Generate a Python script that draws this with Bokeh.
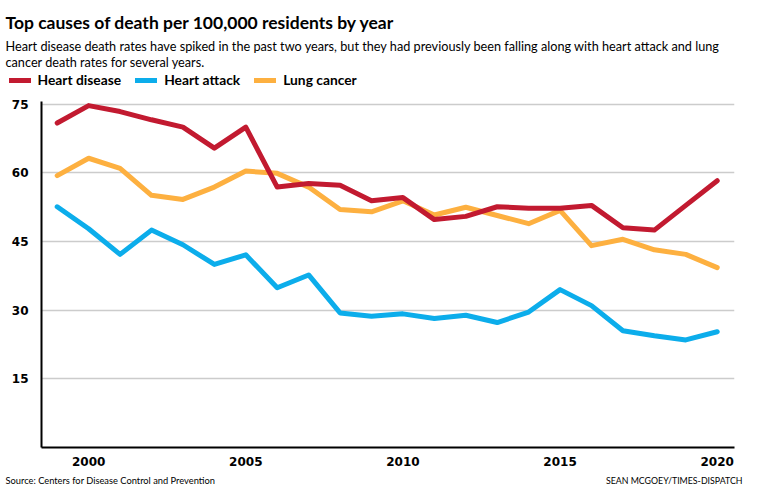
from bokeh.plotting import figure
from bokeh.models import Label, Legend, LegendItem, FixedTicker, Range1d
from bokeh.layouts import column
from bokeh.embed import file_html
from bokeh.resources import INLINE

# ---- data ----
years = list(range(1999, 2021))
heart_disease = [70.9, 74.7, 73.4, 71.6, 70.0, 65.4, 70.0, 56.9, 57.7, 57.3, 53.9,
                 54.6, 49.8, 50.5, 52.6, 52.3, 52.3, 52.9, 48.0, 47.5, 52.9, 58.3]
heart_attack = [52.6, 47.8, 42.2, 47.5, 44.3, 40.0, 42.1, 34.9, 37.7, 29.4, 28.7,
                29.2, 28.2, 28.9, 27.3, 29.6, 34.5, 31.0, 25.5, 24.4, 23.5, 25.3]
lung_cancer = [59.4, 63.2, 61.0, 55.1, 54.2, 56.9, 60.4, 59.9, 56.9, 52.0, 51.5,
               53.9, 50.8, 52.5, 50.7, 48.9, 51.8, 44.1, 45.5, 43.2, 42.2, 39.3]
series_names = ["Heart disease", "Heart attack", "Lung cancer"]
y_ticks = [15, 30, 45, 60, 75]
x_ticks = [2000, 2005, 2010, 2015, 2020]

title = "Top causes of death per 100,000 residents by year"
sub1 = ("Heart disease death rates have spiked in the past two years, but they had previously "
        "been falling along with heart attack and lung")
sub2 = "cancer death rates for several years."
source = "Source: Centers for Disease Control and Prevention"
credit = "SEAN MCGOEY/TIMES-DISPATCH"

RED = "#c21a30"
BLUE = "#0cadeb"
ORANGE = "#fdb040"
FONT = "Lato"
W = 743
LINE = dict(line_width=5, line_cap="round", line_join="round")


def blank_fig(h):
    f = figure(width=W, height=h, output_backend="svg", toolbar_location=None,
               x_range=Range1d(0, W), y_range=Range1d(0, h),
               x_axis_location=None, y_axis_location=None,
               min_border=0, outline_line_color=None, frame_align=False)
    f.grid.visible = False
    return f


def tlab(fig, x, y, text, size, style="normal", align="left"):
    fig.add_layout(Label(x=x, y=y, text=text, text_font=FONT, text_font_size=size,
                         text_font_style=style, text_align=align,
                         text_baseline="alphabetic", text_color="black"))


# ---------- top: title, subtitle, legend ----------
TOP_H = 94
top = blank_fig(TOP_H)
tlab(top, 5, TOP_H - 21.5, title, "17.5px", "bold")
tlab(top, 5, TOP_H - 45, sub1, "12.7px")
tlab(top, 5, TOP_H - 61.5, sub2, "12.7px")

# legend keys: same series, styled like the chart lines (they fall outside this strip's range)
k_red = top.line(years, heart_disease, line_color=RED, **LINE)
k_blue = top.line(years, heart_attack, line_color=BLUE, **LINE)
k_orange = top.line(years, lung_cancer, line_color=ORANGE, **LINE)
legend = Legend(items=[LegendItem(label=series_names[0], renderers=[k_red]),
                       LegendItem(label=series_names[1], renderers=[k_blue]),
                       LegendItem(label=series_names[2], renderers=[k_orange])],
                orientation="horizontal", location=(8.5, 6),
                glyph_width=22, glyph_height=16, label_standoff=7, spacing=14,
                padding=0, margin=0, background_fill_alpha=0, border_line_alpha=0,
                label_text_font=FONT, label_text_font_style="bold",
                label_text_font_size="13.8px", label_text_color="black", label_height=16)
top.add_layout(legend)

# ---------- main chart ----------
X0, X1 = 1998.5, 2020.55
Y0, Y1 = 0, 75.6
MAIN_H = 374
p = figure(width=W, height=MAIN_H, output_backend="svg", toolbar_location=None,
           x_range=Range1d(X0, X1), y_range=Range1d(Y0, Y1),
           min_border_left=41, min_border_right=9, min_border_top=7, min_border_bottom=17,
           frame_align=False)
p.outline_line_color = None

p.xgrid.visible = False
p.ygrid.ticker = FixedTicker(ticks=y_ticks)
p.ygrid.grid_line_color = "#cccccc"
p.ygrid.grid_line_width = 1.5

for ax in (p.xaxis[0], p.yaxis[0]):
    ax.axis_line_color = "black"
    ax.axis_line_width = 2
    ax.major_tick_line_color = None
    ax.minor_tick_line_color = None
    ax.major_label_text_font = "DejaVu Sans"
    ax.major_label_text_font_style = "bold"
    ax.major_label_text_font_size = "12px"
    ax.major_label_text_color = "black"
p.yaxis[0].ticker = FixedTicker(ticks=y_ticks)
p.xaxis[0].ticker = FixedTicker(ticks=x_ticks)
p.yaxis[0].major_label_standoff = 7
p.xaxis[0].major_label_standoff = 3

p.line(years, heart_attack, line_color=BLUE, **LINE)
p.line(years, lung_cancer, line_color=ORANGE, **LINE)
p.line(years, heart_disease, line_color=RED, **LINE)

# ---------- bottom: source + credit ----------
BOT_H = 484 - TOP_H - MAIN_H
bot = blank_fig(BOT_H)
tlab(bot, 5, 4.5, source, "9.3px")
tlab(bot, W - 1, 4.5, credit, "8.8px", align="right")

layout = column(top, p, bot, spacing=0)
open("out.html", "w").write(file_html(layout, INLINE))
